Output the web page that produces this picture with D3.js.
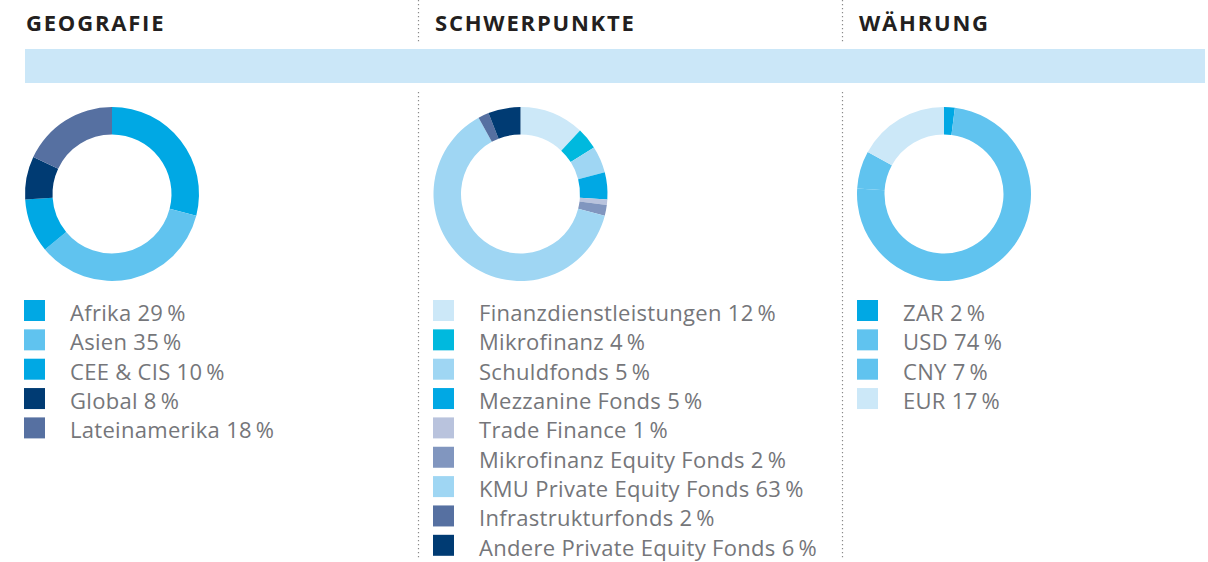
<!DOCTYPE html>
<html>
<head>
<meta charset="utf-8">
<script src="https://cdn.jsdelivr.net/npm/d3@7"></script>
<style>
  body { margin: 0; background: #fff; }
  svg { display: block; font-family: 'Open Sans', sans-serif; }
  .panel-title { font-size: 22px; font-weight: 700; fill: #231f20; letter-spacing: 1.8px; }
  .legend-label { font-size: 22px; fill: #75767a; letter-spacing: 0.3px; }
</style>
</head>
<body>
<svg id="chart" width="1208" height="562"></svg>
<script>
// panel titles
const titles = ['GEOGRAFIE', 'SCHWERPUNKTE', 'WÄHRUNG'];

// Geografie
const geoLabels = ['Afrika', 'Asien', 'CEE & CIS', 'Global', 'Lateinamerika'];
const geoValues = [29, 35, 10, 8, 18];
const geoColors = ['#00a8e4', '#60c3ef', '#00a8e4', '#003b73', '#5670a1'];

// Schwerpunkte
const focusLabels = ['Finanzdienstleistungen', 'Mikrofinanz', 'Schuldfonds', 'Mezzanine Fonds',
  'Trade Finance', 'Mikrofinanz Equity Fonds', 'KMU Private Equity Fonds', 'Infrastrukturfonds',
  'Andere Private Equity Fonds'];
const focusValues = [12, 4, 5, 5, 1, 2, 63, 2, 6];
const focusColors = ['#cce8f8', '#00b9de', '#9fd6f3', '#00a8e4', '#b9c3dd', '#8196bf',
  '#9fd6f3', '#5670a1', '#003b73'];

// Währung
const currencyLabels = ['ZAR', 'USD', 'CNY', 'EUR'];
const currencyValues = [2, 74, 7, 17];
const currencyColors = ['#00a8e4', '#60c3ef', '#60c3ef', '#cce8f8'];

const svg = d3.select('#chart');

const panels = [
  { x: 24, cx: 112, labels: geoLabels, values: geoValues, colors: geoColors },
  { x: 433, cx: 520.5, labels: focusLabels, values: focusValues, colors: focusColors },
  { x: 857, cx: 944, labels: currencyLabels, values: currencyValues, colors: currencyColors },
];

// light blue band under the titles
svg.append('rect')
  .attr('x', 25)
  .attr('y', 49)
  .attr('width', 1180)
  .attr('height', 34)
  .attr('fill', '#cbe7f8');

// dotted separators
[418, 842].forEach((sx) => {
  [[0, 42], [92, 560]].forEach(([y1, y2]) => {
    svg.append('line')
      .attr('x1', sx + 0.5)
      .attr('x2', sx + 0.5)
      .attr('y1', y1)
      .attr('y2', y2)
      .attr('stroke', '#8a8a8a')
      .attr('stroke-width', 1.2)
      .attr('stroke-dasharray', '1.2,2.8');
  });
});

const pie = d3.pie().sort(null).value(d => d);
const arc = d3.arc().innerRadius(59.5).outerRadius(87);

const legendTop = 300;
const rowStep = 29.35;

panels.forEach((p, i) => {
  svg.append('text')
    .attr('class', 'panel-title')
    .attr('x', p.x + 2)
    .attr('y', 30.5)
    .text(titles[i]);

  const donut = svg.append('g')
    .attr('transform', `translate(${p.cx}, 194)`);

  donut.selectAll('path')
    .data(pie(p.values))
    .enter().append('path')
    .attr('d', arc)
    .attr('fill', (d, j) => p.colors[j]);

  // legend
  const y = d3.scaleLinear().domain([0, 1]).range([legendTop, legendTop + rowStep]);

  const rows = svg.append('g').selectAll('g')
    .data(p.labels)
    .enter().append('g')
    .attr('transform', (d, j) => `translate(${p.x}, ${y(j)})`);

  rows.append('rect')
    .attr('width', 21)
    .attr('height', 21)
    .attr('fill', (d, j) => p.colors[j]);

  rows.append('text')
    .attr('class', 'legend-label')
    .attr('x', 46)
    .attr('y', 21)
    .text((d, j) => `${d} ${p.values[j]}\u2009%`);
});
</script>
</body>
</html>
